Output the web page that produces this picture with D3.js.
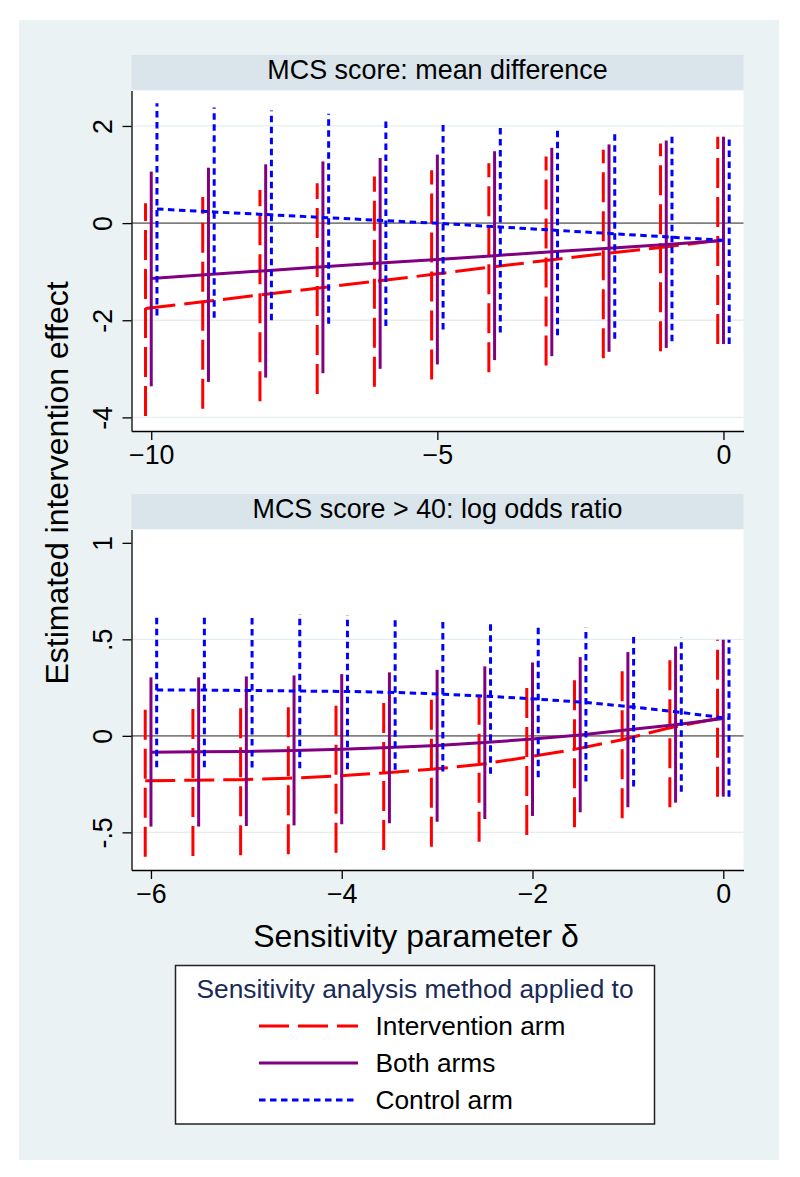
<!DOCTYPE html>
<html>
<head>
<meta charset="utf-8">
<script src="https://cdn.jsdelivr.net/npm/d3@7"></script>
<style>
  html, body { margin: 0; padding: 0; background: #ffffff; }
  svg { display: block; font-family: "Liberation Sans", Arial, Helvetica, sans-serif; }
</style>
</head>
<body>
<svg id="chart" width="800" height="1177"></svg>
<script>
// Top panel: MCS score, mean difference
const topDelta = [-10, -9, -8, -7, -6, -5, -4, -3, -2, -1, 0];
const topIntervEst = [-1.76, -1.62, -1.48, -1.34, -1.20, -1.06, -0.91, -0.77, -0.63, -0.50, -0.36];
const topIntervLo  = [-3.97, -3.82, -3.67, -3.52, -3.37, -3.22, -3.07, -2.93, -2.78, -2.64, -2.49];
const topIntervHi  = [0.41, 0.54, 0.68, 0.82, 0.96, 1.09, 1.23, 1.37, 1.51, 1.64, 1.78];
const topBothEst = [-1.14, -1.06, -0.98, -0.90, -0.82, -0.75, -0.67, -0.59, -0.52, -0.44, -0.36];
const topBothLo  = [-3.36, -3.27, -3.18, -3.09, -3.00, -2.91, -2.82, -2.74, -2.65, -2.57, -2.49];
const topBothHi  = [1.06, 1.14, 1.21, 1.27, 1.34, 1.41, 1.48, 1.55, 1.62, 1.70, 1.78];
const topCtrlEst = [0.29, 0.23, 0.17, 0.11, 0.05, -0.01, -0.08, -0.15, -0.22, -0.29, -0.36];
const topCtrlLo  = [-1.90, -1.95, -2.00, -2.07, -2.12, -2.19, -2.25, -2.31, -2.38, -2.43, -2.49];
const topCtrlHi  = [2.47, 2.38, 2.32, 2.25, 2.18, 2.11, 2.05, 1.99, 1.92, 1.85, 1.78];
const topXTicks = [-10, -5, 0];
const topYTicks = [-4, -2, 0, 2];
const topYLabels = ['-4', '-2', '0', '2'];

// Bottom panel: MCS score > 40, log odds ratio
const botDelta = [-6, -5.5, -5, -4.5, -4, -3.5, -3, -2.5, -2, -1.5, -1, -0.5, 0];
const botIntervEst = [-0.232, -0.230, -0.227, -0.220, -0.208, -0.192, -0.173, -0.149, -0.111, -0.070, -0.020, 0.042, 0.090];
const botIntervLo  = [-0.626, -0.623, -0.619, -0.614, -0.605, -0.592, -0.574, -0.548, -0.514, -0.474, -0.427, -0.370, -0.315];
const botIntervHi  = [0.168, 0.170, 0.173, 0.178, 0.187, 0.200, 0.220, 0.247, 0.285, 0.329, 0.380, 0.437, 0.498];
const botBothEst = [-0.085, -0.083, -0.081, -0.076, -0.069, -0.061, -0.050, -0.035, -0.016, 0.005, 0.031, 0.057, 0.090];
const botBothLo  = [-0.470, -0.470, -0.467, -0.464, -0.458, -0.453, -0.445, -0.431, -0.415, -0.396, -0.370, -0.346, -0.315];
const botBothHi  = [0.303, 0.303, 0.308, 0.313, 0.320, 0.329, 0.342, 0.360, 0.380, 0.408, 0.434, 0.463, 0.498];
const botCtrlEst = [0.237, 0.237, 0.235, 0.232, 0.230, 0.225, 0.216, 0.204, 0.190, 0.173, 0.149, 0.121, 0.090];
const botCtrlLo  = [-0.163, -0.163, -0.164, -0.168, -0.173, -0.176, -0.185, -0.197, -0.214, -0.237, -0.263, -0.289, -0.315];
const botCtrlHi  = [0.635, 0.635, 0.633, 0.631, 0.626, 0.619, 0.611, 0.602, 0.581, 0.562, 0.536, 0.510, 0.498];
const botXTicks = [-6, -4, -2, 0];
const botYTicks = [-0.5, 0, 0.5, 1];
const botYLabels = ['-.5', '0', '.5', '1'];

const seriesNames = ['Intervention arm', 'Both arms', 'Control arm'];
const panelTitles = ['MCS score: mean difference', 'MCS score > 40: log odds ratio'];

// styles for each series: intervention, both, control
const styles = [
  { color: '#ff0000', dash: '30,9' },
  { color: '#800080', dash: null },
  { color: '#0000ff', dash: '6.5,4.5' }
];

const FONT_TICK = 26.8;
const FONT_STRIP = 26.9;
const FONT_TITLE = 32;
const FONT_LEGEND = 26.3;
const LINE_W = 3;

const svg = d3.select('#chart');

// graph region background
svg.append('rect')
  .attr('x', 19).attr('y', 20)
  .attr('width', 760).attr('height', 1140)
  .attr('fill', '#eaf2f3');

/**
 * Draw one panel (strip + plot region + series)
 */
function drawPanel(cfg) {
  const { top, xDomain, yDomain, offset, delta, series, xTicks, yTicks, yLabels, gridTicks, title } = cfg;
  const left = 131.5, right = 743.5;
  const stripH = 35.5, plotH = 340.5;
  const plotTop = top + stripH, plotBottom = plotTop + plotH;

  const x = d3.scaleLinear().domain(xDomain).range([left, right]);
  const y = d3.scaleLinear().domain(yDomain).range([plotBottom, plotTop]);

  const g = svg.append('g');

  // strip
  g.append('rect')
    .attr('x', left).attr('y', top)
    .attr('width', right - left).attr('height', stripH)
    .attr('fill', '#d9e5eb');
  g.append('text')
    .attr('x', (left + right) / 2)
    .attr('y', top + 23.5)
    .attr('text-anchor', 'middle')
    .attr('font-size', FONT_STRIP + 'px')
    .attr('fill', '#000')
    .text(title);

  // plot region
  g.append('rect')
    .attr('x', left).attr('y', plotTop)
    .attr('width', right - left).attr('height', plotH)
    .attr('fill', '#ffffff');

  // gridlines
  g.append('g')
    .selectAll('line')
    .data(gridTicks)
    .join('line')
    .attr('x1', left).attr('x2', right)
    .attr('y1', d => y(d)).attr('y2', d => y(d))
    .attr('stroke', '#e4eef0')
    .attr('stroke-width', 1.3);

  // zero reference line
  g.append('line')
    .attr('x1', left).attr('x2', right)
    .attr('y1', y(0)).attr('y2', y(0))
    .attr('stroke', '#808080')
    .attr('stroke-width', 1.6);

  // series: CI spikes then the connected estimate line
  series.forEach((s, i) => {
    const st = styles[i];
    const dx = (i - 1) * offset;
    const pts = delta.map((d, k) => ({ d: d + dx, est: s.est[k], lo: s.lo[k], hi: s.hi[k] }));

    g.append('g')
      .selectAll('line')
      .data(pts)
      .join('line')
      .attr('x1', p => x(p.d)).attr('x2', p => x(p.d))
      .attr('y1', p => y(p.lo)).attr('y2', p => y(p.hi))
      .attr('stroke', st.color)
      .attr('stroke-width', LINE_W)
      .attr('stroke-dasharray', st.dash);

    const line = d3.line().x(p => x(p.d)).y(p => y(p.est));
    g.append('path')
      .datum(pts)
      .attr('d', line)
      .attr('fill', 'none')
      .attr('stroke', st.color)
      .attr('stroke-width', LINE_W)
      .attr('stroke-dasharray', st.dash);
  });

  // x axis
  const xAxis = g.append('g')
    .attr('transform', `translate(0,${plotBottom})`)
    .call(d3.axisBottom(x).tickValues(xTicks).tickSize(9).tickSizeOuter(0).tickFormat(d3.format('d')));
  xAxis.select('.domain').attr('stroke', '#000').attr('stroke-width', 1.3);
  xAxis.selectAll('.tick line').attr('stroke', '#000').attr('stroke-width', 1.3);
  xAxis.selectAll('.tick text')
    .attr('y', 32.5).attr('dy', null)
    .attr('font-size', FONT_TICK + 'px')
    .attr('font-family', 'Liberation Sans, Arial, sans-serif')
    .attr('fill', '#000');

  // y axis (labels rotated, Stata style)
  const yAxis = g.append('g')
    .attr('transform', `translate(${left},0)`)
    .call(d3.axisLeft(y).tickValues(yTicks).tickSize(9).tickSizeOuter(0).tickFormat((d, k) => yLabels[k]));
  yAxis.select('.domain').attr('stroke', '#000').attr('stroke-width', 1.3);
  yAxis.selectAll('.tick line').attr('stroke', '#000').attr('stroke-width', 1.3);
  yAxis.selectAll('.tick text')
    .attr('x', null).attr('dy', null)
    .attr('transform', 'translate(-19.5,0) rotate(-90)')
    .attr('text-anchor', 'middle')
    .attr('font-size', FONT_TICK + 'px')
    .attr('font-family', 'Liberation Sans, Arial, sans-serif')
    .attr('fill', '#000');
}

drawPanel({
  top: 55,
  xDomain: [-10.345, 0.35],
  yDomain: [-4.28, 2.73],
  offset: 0.1,
  delta: topDelta,
  series: [
    { est: topIntervEst, lo: topIntervLo, hi: topIntervHi },
    { est: topBothEst, lo: topBothLo, hi: topBothHi },
    { est: topCtrlEst, lo: topCtrlLo, hi: topCtrlHi }
  ],
  xTicks: topXTicks,
  yTicks: topYTicks,
  yLabels: topYLabels,
  gridTicks: [-4, -2, 2],
  title: panelTitles[0]
});

drawPanel({
  top: 494,
  xDomain: [-6.204, 0.212],
  yDomain: [-0.695, 1.069],
  offset: 0.06,
  delta: botDelta,
  series: [
    { est: botIntervEst, lo: botIntervLo, hi: botIntervHi },
    { est: botBothEst, lo: botBothLo, hi: botBothHi },
    { est: botCtrlEst, lo: botCtrlLo, hi: botCtrlHi }
  ],
  xTicks: botXTicks,
  yTicks: botYTicks,
  yLabels: botYLabels,
  gridTicks: [-0.5, 0.5],
  title: panelTitles[1]
});

// axis titles
svg.append('text')
  .attr('transform', 'translate(68,483) rotate(-90)')
  .attr('text-anchor', 'middle')
  .attr('font-size', FONT_TITLE + 'px')
  .attr('fill', '#000')
  .text('Estimated intervention effect');

svg.append('text')
  .attr('x', 416).attr('y', 946.5)
  .attr('text-anchor', 'middle')
  .attr('font-size', FONT_TITLE + 'px')
  .attr('fill', '#000')
  .text('Sensitivity parameter δ');

/**
 * Legend
 */
const legend = svg.append('g');
legend.append('rect')
  .attr('x', 175.5).attr('y', 965.5)
  .attr('width', 479).attr('height', 158.5)
  .attr('fill', '#ffffff')
  .attr('stroke', '#222')
  .attr('stroke-width', 1.5);

legend.append('text')
  .attr('x', 415).attr('y', 998.3)
  .attr('text-anchor', 'middle')
  .attr('font-size', FONT_LEGEND + 'px')
  .attr('fill', '#1a2a57')
  .text('Sensitivity analysis method applied to');

const item = legend.selectAll('g.item')
  .data(seriesNames)
  .join('g')
  .attr('class', 'item')
  .attr('transform', (d, i) => `translate(0,${1026 + i * 37})`);

item.append('line')
  .attr('x1', 259).attr('x2', 358)
  .attr('y1', 0).attr('y2', 0)
  .attr('stroke', (d, i) => styles[i].color)
  .attr('stroke-width', LINE_W)
  .attr('stroke-dasharray', (d, i) => styles[i].dash);

item.append('text')
  .attr('x', 375.5).attr('y', 9.3)
  .attr('font-size', FONT_LEGEND + 'px')
  .attr('fill', '#000')
  .text(d => d);
</script>
</body>
</html>
